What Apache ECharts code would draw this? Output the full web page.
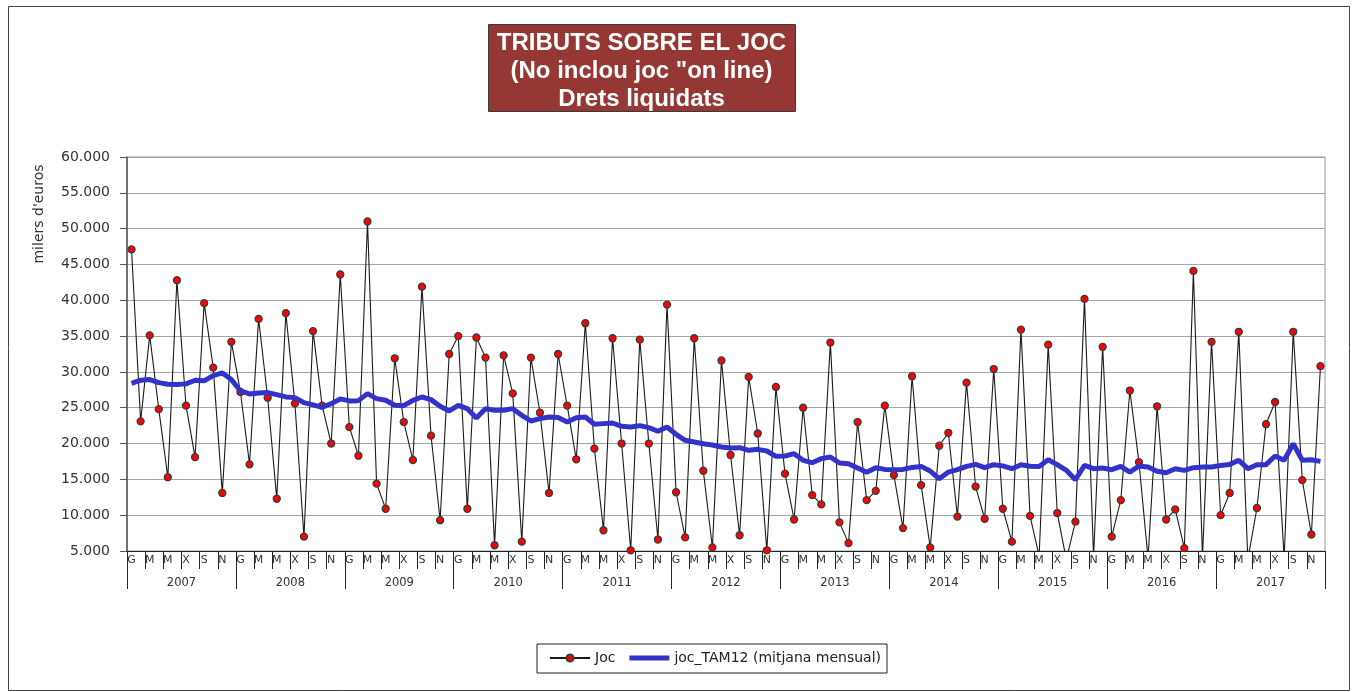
<!DOCTYPE html>
<html>
<head>
<meta charset="utf-8">
<script src="https://cdn.jsdelivr.net/npm/echarts@6/dist/echarts.min.js"></script>
<style>
html,body{margin:0;padding:0;background:#fff;}
#chart{width:1354px;height:692px;}
</style>
</head>
<body>
<div id="chart"></div>
<script>
// Catalan month initials (Gener..Desembre)
const monthAbbr = ['G','F','M','A','M','J','X','A','S','O','N','D'];
const years = ['2007','2008','2009','2010','2011','2012','2013','2014','2015','2016','2017'];
const yTicks = [5000, 60000, 5000]; // min, max, interval

// Joc (milers d'euros), monthly 2007-2017
const joc = [
  47100, 23100, 35100, 24800, 15300, 42800, 25300, 18100, 39600, 30600, 13100, 34200,
  27200, 17100, 37400, 26400, 12300, 38200, 25600, 7000, 35700, 25300, 20000, 43600,
  22300, 18300, 51000, 14400, 10900, 31900, 23000, 17700, 41900, 21100, 9300, 32500,
  35000, 10900, 34800, 32000, 5800, 32300, 27000, 6300, 32000, 24300, 13100, 32500,
  25300, 17800, 36800, 19300, 7900, 34700, 20000, 5100, 34500, 20000, 6600, 39400,
  13200, 6900, 34700, 16200, 5500, 31600, 18400, 7200, 29300, 21400, 5100, 27900,
  15800, 9400, 25000, 12800, 11500, 34100, 9000, 6100, 23000, 12100, 13400, 25300,
  15600, 8200, 29400, 14200, 5500, 19700, 21500, 9800, 28500, 14000, 9500, 30400,
  10900, 6300, 35900, 9900, 4300, 33800, 10300, 3800, 9100, 40200, 4200, 33500,
  7000, 12100, 27400, 17400, 4000, 25200, 9400, 10800, 5400, 44100, 4200, 34200,
  10000, 13100, 35600, 3800, 11000, 22700, 25800, 4000, 35600, 14900, 7300, 30800
];

// joc_TAM12 (mitjana mensual)
const tam12 = [
  28400, 28840, 28930, 28500, 28280, 28240, 28330, 28840, 28750, 29490, 29860, 28930,
  27340, 26920, 27070, 27110, 26830, 26510, 26410, 25710, 25390, 25060, 25570, 26230,
  25950, 25990, 26970, 26270, 26040, 25340, 25290, 26040, 26500, 26130, 25200, 24550,
  25340, 24870, 23570, 24870, 24640, 24640, 24870, 23940, 23150, 23480, 23710, 23620,
  23010, 23600, 23710, 22690, 22780, 22870, 22410, 22310, 22500, 22220, 21710, 22310,
  21290, 20450, 20220, 19980, 19800, 19520, 19380, 19430, 19050, 19190, 18960, 18210,
  18260, 18590, 17660, 17330, 17890, 18120, 17280, 17190, 16580, 15980, 16630, 16390,
  16350, 16390, 16670, 16810, 16160, 15090, 16020, 16350, 16810, 17090, 16630, 17050,
  16880, 16490, 17050, 16840, 16810, 17740, 17050, 16260, 14950, 16950, 16490, 16580,
  16350, 16810, 16020, 16860, 16720, 16120, 15930, 16490, 16260, 16630, 16720, 16720,
  16950, 17090, 17660, 16490, 17050, 17050, 18260, 17660, 19980, 17660, 17740, 17510
];

const titleLines = ['TRIBUTS SOBRE EL JOC', '(No inclou joc "on line)', 'Drets liquidats'];
const yAxisTitle = "milers d'euros";
const seriesNames = ['Joc', 'joc_TAM12 (mitjana mensual)'];

const months = [];
years.forEach(() => monthAbbr.forEach(m => months.push(m)));

function fmt(v) {
  return String(v).replace(/\B(?=(\d{3})+(?!\d))/g, '.');
}

const FONT = '"DejaVu Sans", Verdana, sans-serif';
const chart = echarts.init(document.getElementById('chart'), null, {renderer: 'canvas'});

chart.setOption({
  animation: false,
  backgroundColor: '#ffffff',
  textStyle: {fontFamily: FONT},
  grid: {
    left: 127, top: 157, right: 29, bottom: 141,
    show: true, borderColor: '#9a9a9a', borderWidth: 1, backgroundColor: 'transparent'
  },
  legend: {
    left: 537, top: 644,
    padding: [7, 6, 8, 12],
    borderColor: '#222', borderWidth: 1,
    itemWidth: 40, itemHeight: 9, itemGap: 14,
    textStyle: {fontFamily: FONT, fontSize: 14, color: '#222'},
    data: [
      {name: seriesNames[0]},
      {name: seriesNames[1], icon: 'path://M0,0 L46,0 L46,5.5 L0,5.5 Z'}
    ]
  },
  xAxis: [
    {
      type: 'category', data: months, boundaryGap: true, position: 'bottom',
      axisLine: {show: true, lineStyle: {color: '#222', width: 1}},
      axisTick: {show: true, interval: 1, length: 18, lineStyle: {color: '#222', width: 1}},
      axisLabel: {interval: 1, margin: 4, fontSize: 11, color: '#333', fontFamily: FONT},
      splitLine: {show: false}
    },
    {
      type: 'category', data: years, boundaryGap: true, position: 'bottom',
      axisLine: {show: false},
      axisTick: {show: true, interval: 0, length: 38, lineStyle: {color: '#222', width: 1}},
      axisLabel: {interval: 0, margin: 26, fontSize: 11.5, color: '#333', fontFamily: FONT},
      splitLine: {show: false}
    }
  ],
  yAxis: {
    type: 'value', min: yTicks[0], max: yTicks[1], interval: yTicks[2],
    axisLine: {show: true, lineStyle: {color: '#555', width: 1.5}},
    axisTick: {show: true, length: 7, lineStyle: {color: '#555'}},
    axisLabel: {margin: 17, fontSize: 14, color: '#333', fontFamily: FONT, formatter: fmt},
    splitLine: {show: true, lineStyle: {color: '#a6a6a6', width: 1.2}}
  },
  series: [
    {
      name: seriesNames[0], type: 'line', data: joc, xAxisIndex: 0,
      symbol: 'circle', symbolSize: 7, showAllSymbol: true,
      clip: true,
      lineStyle: {color: '#1a1a1a', width: 1.1},
      itemStyle: {color: '#ff0000', borderColor: '#3c3c3c', borderWidth: 1.3},
      z: 2
    },
    {
      name: seriesNames[1], type: 'line', data: tam12, xAxisIndex: 0,
      symbol: 'none', clip: true,
      lineStyle: {color: '#3333cc', width: 5},
      itemStyle: {color: '#3333cc'},
      z: 3
    }
  ],
  graphic: [
    {type: 'rect', left: 6, top: 4, shape: {width: 1341, height: 684},
     style: {fill: 'none', stroke: '#444', lineWidth: 1}, silent: true},
    {type: 'rect', left: 488, top: 24, shape: {width: 307, height: 87},
     style: {fill: '#953735', stroke: '#3a3a3a', lineWidth: 1}, z: 10},
    {type: 'text', x: 641.5, y: 29, z: 11,
     style: {text: titleLines.join('\n'), fill: '#ffffff', font: 'bold 24px "Liberation Sans", Arial, sans-serif',
             textAlign: 'center', lineHeight: 28}},
    {type: 'text', x: 39, y: 214, rotation: Math.PI / 2, z: 11,
     style: {text: yAxisTitle, fill: '#333', font: '14px ' + FONT, textAlign: 'center', textVerticalAlign: 'middle'}}
  ]
});
</script>
</body>
</html>
